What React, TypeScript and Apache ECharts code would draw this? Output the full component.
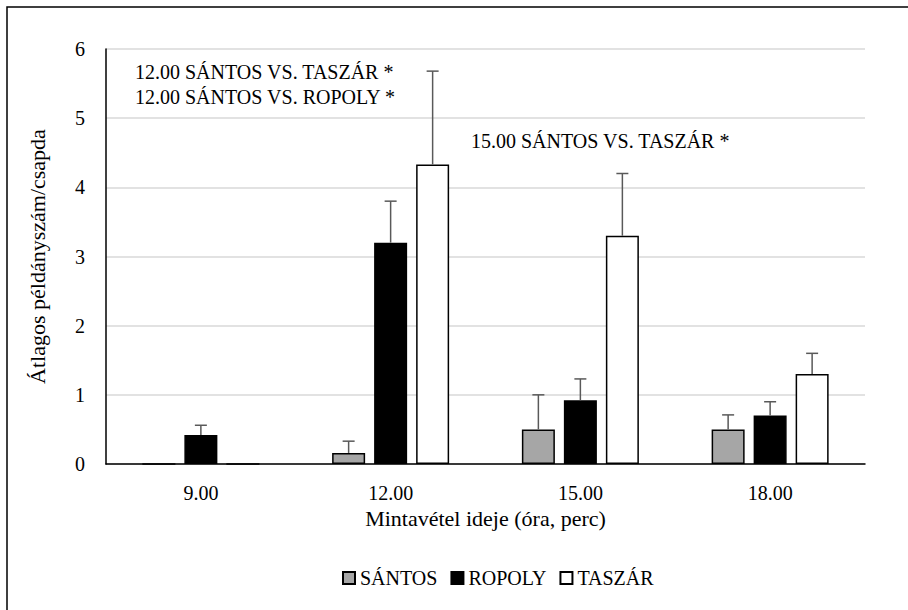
import React, { useEffect, useRef } from "react";
import * as echarts from "echarts";

const categories = ["9.00", "12.00", "15.00", "18.00"];
const seriesNames = ["SÁNTOS", "ROPOLY", "TASZÁR"];
const santos = [0, 0.16, 0.5, 0.5];
const ropoly = [0.42, 3.2, 0.92, 0.7];
const taszar = [0, 4.33, 3.3, 1.3];
const santosErrTop = [null, 0.33, 1.0, 0.71];
const ropolyErrTop = [0.56, 3.8, 1.23, 0.9];
const taszarErrTop = [null, 5.68, 4.2, 1.6];
const yTicks = { min: 0, max: 6, interval: 1 };
const annotations = [
  "12.00 SÁNTOS VS. TASZÁR *",
  "12.00 SÁNTOS VS. ROPOLY *",
  "15.00 SÁNTOS VS. TASZÁR *",
];

const FONT = "Times New Roman, Liberation Serif, serif";
const BAR_W = 33;
const BAR_GAP = 9;
const fills = ["#a6a6a6", "#000000", "#ffffff"];

export default function App() {
  const ref = useRef<HTMLDivElement>(null);
  useEffect(() => {
    if (!ref.current) return;
    const chart = echarts.init(ref.current, undefined, { renderer: "svg" });
    const values = [santos, ropoly, taszar];
    const errs = [santosErrTop, ropolyErrTop, taszarErrTop];

    const barSeries = seriesNames.map((name, s) => ({
      name,
      type: "bar",
      data: values[s],
      barWidth: BAR_W,
      barGap: (BAR_GAP / BAR_W) * 100 + "%",
      itemStyle: { color: fills[s], borderColor: "#000", borderWidth: 1.5 },
      z: 2,
    }));

    const errSeries = seriesNames.map((name, s) => ({
      type: "custom",
      name: name + "-err",
      z: 3,
      silent: true,
      data: values[s]
        .map((v, i) => [i, v, errs[s][i]])
        .filter((d) => d[2] !== null),
      renderItem: (params: any, api: any) => {
        const idx = api.value(0);
        const base = api.coord([idx, api.value(1)]);
        const top = api.coord([idx, api.value(2)]);
        const off = (s - 1) * (BAR_W + BAR_GAP);
        const x = base[0] + off;
        const style = { stroke: "#595959", lineWidth: 1.5 };
        return {
          type: "group",
          children: [
            { type: "line", shape: { x1: x, y1: base[1], x2: x, y2: top[1] }, style },
            { type: "line", shape: { x1: x - 6, y1: top[1], x2: x + 6, y2: top[1] }, style },
          ],
        };
      },
    }));

    const annStyle = (text: string) => ({
      text,
      fontFamily: FONT,
      fontSize: 20,
      fill: "#000",
      verticalAlign: "middle",
    });

    chart.setOption({
      animation: false,
      backgroundColor: "#fff",
      textStyle: { fontFamily: FONT },
      grid: { left: 106, right: 43, top: 49, bottom: 146, containLabel: false },
      legend: {
        data: seriesNames,
        bottom: 17,
        left: 337,
        icon: "rect",
        itemWidth: 12,
        itemHeight: 12,
        itemGap: 13,
        textStyle: { fontFamily: FONT, fontSize: 20, color: "#000" },
      },
      xAxis: {
        type: "category",
        data: categories,
        axisLine: { lineStyle: { color: "#000", width: 1.5 } },
        axisTick: { show: false },
        axisLabel: { fontFamily: FONT, fontSize: 20, color: "#000", margin: 19 },
        name: "Mintavétel ideje (óra, perc)",
        nameLocation: "middle",
        nameGap: 42,
        nameTextStyle: { fontFamily: FONT, fontSize: 22, color: "#000" },
      },
      yAxis: {
        type: "value",
        min: yTicks.min,
        max: yTicks.max,
        interval: yTicks.interval,
        axisLine: { show: true, lineStyle: { color: "#000", width: 1.5 } },
        axisTick: { show: false },
        splitLine: { lineStyle: { color: "#d9d9d9", width: 1.5 } },
        axisLabel: { fontFamily: FONT, fontSize: 20, color: "#000", margin: 21 },
        name: "Átlagos példányszám/csapda",
        nameLocation: "middle",
        nameGap: 58,
        nameRotate: 90,
        nameTextStyle: { fontFamily: FONT, fontSize: 22, color: "#000" },
      },
      graphic: [
        {
          type: "rect",
          shape: { x: 7, y: 7, width: 1000, height: 1000 },
          style: { fill: "none", stroke: "#000", lineWidth: 1.5 },
          silent: true,
        },
        { type: "text", x: 135, y: 72, style: annStyle(annotations[0]) },
        { type: "text", x: 135, y: 97, style: annStyle(annotations[1]) },
        { type: "text", x: 471, y: 141, style: annStyle(annotations[2]) },
      ],
      series: [...barSeries, ...errSeries],
    });
    return () => chart.dispose();
  }, []);
  return (
    <div
      ref={ref}
      style={{ position: "fixed", left: 0, top: 0, width: 908, height: 610 }}
    />
  );
}
